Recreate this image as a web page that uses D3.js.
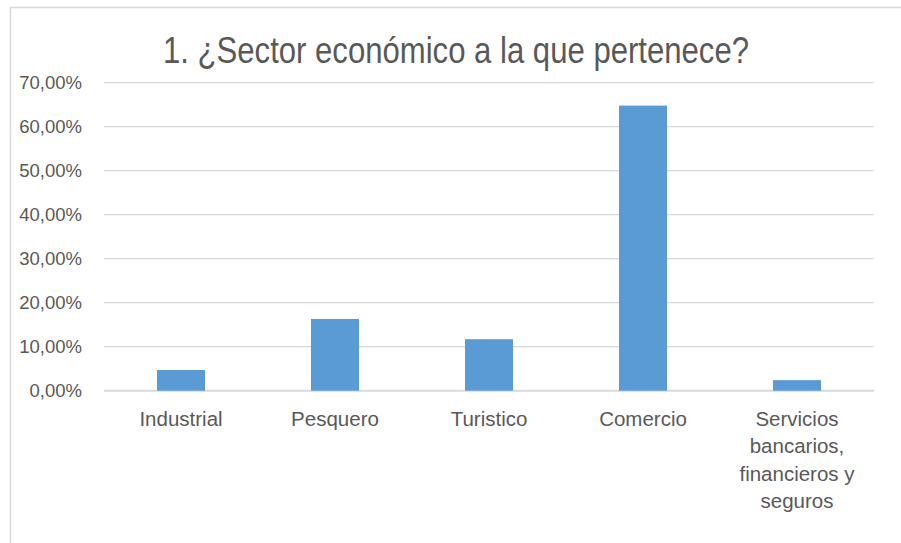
<!DOCTYPE html>
<html><head><meta charset="utf-8">
<script src="https://cdn.jsdelivr.net/npm/d3@7"></script>
<style>body{margin:0;background:#fff}svg{display:block}</style>
</head><body>
<script>
const title = "1. ¿Sector económico a la que pertenece?";
const categories = [["Industrial"],["Pesquero"],["Turistico"],["Comercio"],["Servicios","bancarios,","financieros y","seguros"]];
const values = [0.047, 0.163, 0.117, 0.648, 0.024];
const yTicks = [0,0.1,0.2,0.3,0.4,0.5,0.6,0.7];

const W=901,H=543;
const svg=d3.select("body").append("svg").attr("width",W).attr("height",H);
svg.append("rect").attr("x",10.5).attr("y",7.5).attr("width",W).attr("height",H).attr("fill","#fff").attr("stroke","#D9D9D9").attr("stroke-width",1.5);

const x=d3.scaleBand().domain(d3.range(categories.length)).range([104,874]).padding(0);
const y=d3.scaleLinear().domain([0,0.7]).range([390.7,82.7]);
const fmt=v=>d3.format(".2f")(v*100).replace(".",",")+"%";

svg.append("g").selectAll("line").data(yTicks).join("line")
  .attr("x1",104).attr("x2",874).attr("y1",d=>y(d)).attr("y2",d=>y(d))
  .attr("stroke","#D9D9D9").attr("stroke-width",d=>d===0?2:1.3);

svg.append("g").selectAll("text").data(yTicks).join("text")
  .attr("x",82).attr("y",d=>y(d)).attr("dy","0.36em").attr("text-anchor","end")
  .attr("font-family","Liberation Sans, Arial, sans-serif").attr("font-size",18.5).attr("fill","#595959")
  .text(fmt);

const bw=48;
svg.append("g").selectAll("rect").data(values).join("rect")
  .attr("x",(d,i)=>x(i)+x.bandwidth()/2-bw/2).attr("width",bw)
  .attr("y",d=>y(d)).attr("height",d=>y(0)-y(d)).attr("fill","#5B9BD5");

const lab=svg.append("g").selectAll("text").data(categories).join("text")
  .attr("x",(d,i)=>x(i)+x.bandwidth()/2).attr("y",426).attr("text-anchor","middle")
  .attr("font-family","Liberation Sans, Arial, sans-serif").attr("font-size",20.5).attr("fill","#595959");
lab.selectAll("tspan").data(d=>d).join("tspan")
  .attr("x",function(){return this.parentNode.getAttribute("x");})
  .attr("dy",(d,i)=>i===0?0:27.3).text(d=>d);

svg.append("text").attr("x",456).attr("y",63).attr("text-anchor","middle")
  .attr("font-family","Liberation Sans Narrow, Liberation Sans, Arial, sans-serif").attr("font-size",37)
  .attr("fill","#595959").attr("textLength",586).attr("lengthAdjust","spacingAndGlyphs").text(title);
</script>
</body></html>
